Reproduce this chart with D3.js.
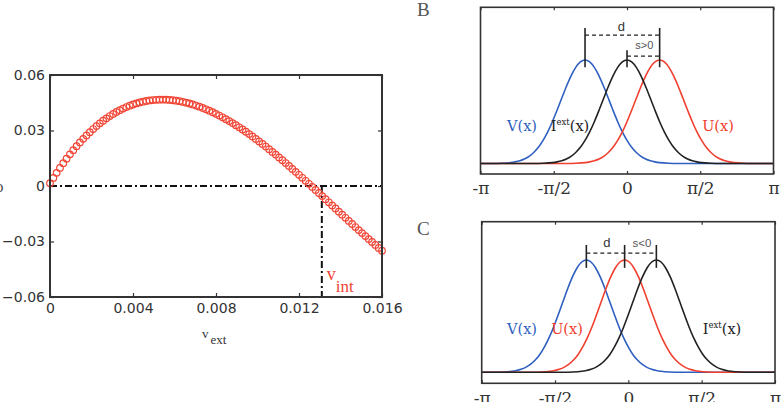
<!DOCTYPE html>
<html>
<head>
<meta charset="utf-8">
<script src="https://cdn.jsdelivr.net/npm/d3@7"></script>
<style>
  body { margin: 0; background: #fff; }
  svg { display: block; }
</style>
</head>
<body>
<svg id="fig" width="784" height="402"></svg>
<script>
// ---- panel A : red circles vs v_ext ----
var vExt = [0, 0.00016, 0.00032, 0.00048, 0.00064, 0.0008, 0.00096, 0.00112, 0.00128, 0.00144,
  0.0016, 0.00176, 0.00192, 0.00208, 0.00224, 0.0024, 0.00256, 0.00272, 0.00288, 0.00304,
  0.0032, 0.00336, 0.00352, 0.00368, 0.00384, 0.004, 0.00416, 0.00432, 0.00448, 0.00464,
  0.0048, 0.00496, 0.00512, 0.00528, 0.00544, 0.0056, 0.00576, 0.00592, 0.00608, 0.00624,
  0.0064, 0.00656, 0.00672, 0.00688, 0.00704, 0.0072, 0.00736, 0.00752, 0.00768, 0.00784,
  0.008, 0.00816, 0.00832, 0.00848, 0.00864, 0.0088, 0.00896, 0.00912, 0.00928, 0.00944,
  0.0096, 0.00976, 0.00992, 0.01008, 0.01024, 0.0104, 0.01056, 0.01072, 0.01088, 0.01104,
  0.0112, 0.01136, 0.01152, 0.01168, 0.01184, 0.012, 0.01216, 0.01232, 0.01248, 0.01264,
  0.0128, 0.01296, 0.01312, 0.01328, 0.01344, 0.0136, 0.01376, 0.01392, 0.01408, 0.01424,
  0.0144, 0.01456, 0.01472, 0.01488, 0.01504, 0.0152, 0.01536, 0.01552, 0.01568, 0.01584,
  0.016];
var rhoVals = [0.0015, 0.00437, 0.00712, 0.00978, 0.01232, 0.01477, 0.01712, 0.01936, 0.02151, 0.02355,
  0.0255, 0.02736, 0.02912, 0.03079, 0.03237, 0.03386, 0.03526, 0.03657, 0.0378, 0.03894,
  0.03999, 0.04097, 0.04186, 0.04267, 0.04341, 0.04406, 0.04464, 0.04515, 0.04558, 0.04594,
  0.04623, 0.04645, 0.0466, 0.04668, 0.04669, 0.04665, 0.04653, 0.04636, 0.04612, 0.04583,
  0.04547, 0.04506, 0.0446, 0.04408, 0.0435, 0.04288, 0.0422, 0.04147, 0.04069, 0.03987,
  0.039, 0.03808, 0.03713, 0.03613, 0.03509, 0.03401, 0.03289, 0.03173, 0.03055, 0.02932,
  0.02806, 0.02677, 0.02545, 0.0241, 0.02272, 0.02132, 0.01989, 0.01843, 0.01696, 0.01545,
  0.01393, 0.0124, 0.01083, 0.00925, 0.00766, 0.00606, 0.00444, 0.00281, 0.00118, -0.00048,
  -0.00214, -0.00379, -0.00546, -0.00714, -0.00882, -0.01049, -0.01217, -0.01386, -0.01552, -0.0172,
  -0.01887, -0.02052, -0.02218, -0.02383, -0.02545, -0.02708, -0.0287, -0.03028, -0.03187, -0.03345,
  -0.03501];
var vIntValue = 0.0131;
var aXTicks = [0, 0.004, 0.008, 0.012, 0.016];
var aXTickLabels = ["0", "0.004", "0.008", "0.012", "0.016"];
var aYTicks = [-0.06, -0.03, 0, 0.03, 0.06];
var aYTickLabels = ["\u22120.06", "\u22120.03", "0", "0.03", "0.06"];

// ---- panels B and C : bumps on the ring ----
var piTicks = [-Math.PI, -Math.PI / 2, 0, Math.PI / 2, Math.PI];
var piTickLabels = ["-\u03c0", "-\u03c0/2", "0", "\u03c0/2", "\u03c0"];
var bumpOffsets = [-4.2, -2.5, -2.0, -1.8, -1.6, -1.5, -1.4, -1.3, -1.2, -1.1, -1.0, -0.9, -0.8, -0.7, -0.6, -0.5, -0.4, -0.3, -0.2, -0.1,
  0, 0.1, 0.2, 0.3, 0.4, 0.5, 0.6, 0.7, 0.8, 0.9, 1.0, 1.1, 1.2, 1.3, 1.4, 1.5, 1.6, 1.8, 2.0, 2.5, 4.2];
var bumpProfile = [0, 0, 0.0006, 0.0025, 0.0088, 0.016, 0.027, 0.044, 0.070, 0.107, 0.157, 0.224, 0.306, 0.404, 0.514, 0.630, 0.744, 0.847, 0.929, 0.982,
  1, 0.982, 0.929, 0.847, 0.744, 0.630, 0.514, 0.404, 0.306, 0.224, 0.157, 0.107, 0.070, 0.044, 0.027, 0.016, 0.0088, 0.0025, 0.0006, 0, 0];
var bumpNames = ["V", "U", "I"];
var peaksB = [-0.9, 0.7, 0];
var peaksC = [-0.9, -0.08, 0.6];

var colV = "#2f5fbf", colU = "#f0402f", colI = "#222222", colMark = "#f04535";

var svg = d3.select("#fig");

// ================= panel A =================
var ax = d3.scaleLinear().domain([0, 0.016]).range([50, 382]);
var ay = d3.scaleLinear().domain([-0.06, 0.06]).range([297, 75]);
var gA = svg.append("g");

function styleAxis(sel, font, size) {
  sel.select(".domain").remove();
  sel.selectAll(".tick line").attr("stroke", "#333").attr("stroke-width", 1.2);
  sel.selectAll(".tick text").attr("fill", "#333").attr("font-family", font).attr("font-size", size);
}

gA.append("g").attr("transform", "translate(0," + ay.range()[0] + ")")
  .call(d3.axisBottom(ax).tickValues(aXTicks).tickSize(-4).tickPadding(6)
    .tickFormat(function (d, i) { return aXTickLabels[i]; }))
  .call(styleAxis, "DejaVu Sans", 14);
gA.append("g").attr("transform", "translate(0," + ay.range()[1] + ")")
  .call(d3.axisTop(ax).tickValues(aXTicks).tickSize(-4).tickFormat(""))
  .call(styleAxis, "DejaVu Sans", 14);
gA.append("g").attr("transform", "translate(" + ax.range()[0] + ",0)")
  .call(d3.axisLeft(ay).tickValues(aYTicks).tickSize(-4).tickPadding(5)
    .tickFormat(function (d, i) { return aYTickLabels[i]; }))
  .call(styleAxis, "DejaVu Sans", 14);
gA.append("g").attr("transform", "translate(" + ax.range()[1] + ",0)")
  .call(d3.axisRight(ay).tickValues(aYTicks).tickSize(-4).tickFormat(""))
  .call(styleAxis, "DejaVu Sans", 14);

// dash-dot guides
gA.append("line")
  .attr("x1", ax(0)).attr("x2", ax(0.016)).attr("y1", ay(0)).attr("y2", ay(0))
  .attr("stroke", "#111").attr("stroke-width", 2).attr("stroke-dasharray", "7,3,2,3");
gA.append("line")
  .attr("x1", ax(vIntValue)).attr("x2", ax(vIntValue)).attr("y1", ay(0)).attr("y2", ay(-0.06))
  .attr("stroke", "#111").attr("stroke-width", 2).attr("stroke-dasharray", "7,3,2,3");

gA.append("g").selectAll("circle")
  .data(vExt)
  .enter().append("circle")
  .attr("cx", function (d) { return ax(d); })
  .attr("cy", function (d, i) { return ay(rhoVals[i]); })
  .attr("r", 3.3)
  .attr("fill", "none")
  .attr("stroke", colMark)
  .attr("stroke-width", 1.2);

gA.append("rect")
  .attr("x", ax(0)).attr("y", ay(0.06))
  .attr("width", ax(0.016) - ax(0)).attr("height", ay(-0.06) - ay(0.06))
  .attr("fill", "none").attr("stroke", "#333").attr("stroke-width", 2);

// labels
var vint = gA.append("text").attr("font-family", "Liberation Serif").attr("fill", colMark)
  .attr("x", ax(vIntValue) + 5).attr("y", 280);
vint.append("tspan").attr("font-size", 18).text("v");
vint.append("tspan").attr("font-size", 17).attr("dy", 12).text("int");

var vext = gA.append("text").attr("font-family", "Liberation Serif").attr("fill", "#333")
  .attr("x", 202).attr("y", 337.5);
vext.append("tspan").attr("font-size", 13).text("v");
vext.append("tspan").attr("font-size", 13).attr("dy", 6.5).attr("dx", 2).text("ext");

gA.append("text").attr("x", 3.5).attr("y", 192).attr("text-anchor", "end")
  .attr("font-family", "Liberation Serif").attr("font-size", 16).attr("fill", "#444").text("\u03c1");

// ================= panels B / C =================
function ringPanel(opt) {
  var x = d3.scaleLinear().domain([-Math.PI, Math.PI]).range(opt.xr);
  var y = d3.scaleLinear().domain(opt.yd).range(opt.yr);
  var g = svg.append("g");
  var clipId = "clip" + opt.name;
  g.append("clipPath").attr("id", clipId).append("rect")
    .attr("x", opt.xr[0]).attr("y", opt.yr[1])
    .attr("width", opt.xr[1] - opt.xr[0]).attr("height", opt.yr[0] - opt.yr[1]);

  g.append("g").attr("transform", "translate(0," + opt.yr[0] + ")")
    .call(d3.axisBottom(x).tickValues(piTicks).tickSize(-3).tickPadding(7)
      .tickFormat(function (d, i) { return piTickLabels[i]; }))
    .call(styleAxis, "DejaVu Serif", 17);
  g.append("g").attr("transform", "translate(0," + opt.yr[1] + ")")
    .call(d3.axisTop(x).tickValues(piTicks).tickSize(-3).tickFormat(""))
    .call(styleAxis, "DejaVu Serif", 17);
  g.selectAll(".tick text").attr("dy", "0.78em");

  var line = d3.line()
    .x(function (d) { return x(d[0]); })
    .y(function (d) { return y(d[1]); })
    .curve(d3.curveMonotoneX);
  var cols = { V: colV, U: colU, I: colI };
  var curves = g.append("g").attr("clip-path", "url(#" + clipId + ")");
  bumpNames.forEach(function (nm, k) {
    var c = opt.peaks[k];
    var pts = bumpOffsets.map(function (o, j) { return [c + o, bumpProfile[j]]; });
    curves.append("path").datum(pts)
      .attr("d", line).attr("fill", "none")
      .attr("stroke", cols[nm]).attr("stroke-width", 1.6);
  });

  g.append("rect")
    .attr("x", opt.xr[0]).attr("y", opt.yr[1])
    .attr("width", opt.xr[1] - opt.xr[0]).attr("height", opt.yr[0] - opt.yr[1])
    .attr("fill", "none").attr("stroke", "#333").attr("stroke-width", 1.6);

  // panel letter
  g.append("text").attr("x", 417).attr("y", opt.letterY)
    .attr("font-family", "Liberation Serif").attr("font-size", 19).attr("fill", "#555")
    .text(opt.name);
  return { g: g, x: x, y: y };
}

function curveLabel(g, x, yb, txt, col, sup) {
  var t = g.append("text").attr("x", x).attr("y", yb).attr("text-anchor", "middle")
    .attr("font-family", "DejaVu Serif").attr("font-size", 14.5).attr("fill", col);
  if (sup) {
    t.append("tspan").text("I");
    t.append("tspan").attr("font-size", 8.5).attr("dy", -6).text("ext");
    t.append("tspan").attr("dy", 6).text("(x)");
  } else {
    t.text(txt);
  }
}

function vmark(p, xv, y0, y1) {
  p.g.append("line").attr("x1", p.x(xv)).attr("x2", p.x(xv))
    .attr("y1", p.y(y0)).attr("y2", p.y(y1))
    .attr("stroke", "#222").attr("stroke-width", 1.6);
}
function hdash(p, xa, xb, yv) {
  p.g.append("line").attr("x1", p.x(xa)).attr("x2", p.x(xb))
    .attr("y1", p.y(yv)).attr("y2", p.y(yv))
    .attr("stroke", "#222").attr("stroke-width", 1.3).attr("stroke-dasharray", "4,3");
}
function smallText(p, xv, yb, txt, size, col) {
  p.g.append("text").attr("x", p.x(xv)).attr("y", yb).attr("text-anchor", "middle")
    .attr("font-family", "Liberation Sans").attr("font-size", size).attr("fill", col).text(txt);
}

// panel B
var pB = ringPanel({ name: "B", xr: [480.5, 773.5], yr: [174, 7.3], yd: [-0.101, 1.509], peaks: peaksB, letterY: 16 });
vmark(pB, peaksB[0], 0.93, 1.31);
vmark(pB, peaksB[1], 0.93, 1.31);
vmark(pB, peaksB[2], 0.93, 1.095);
hdash(pB, peaksB[0], peaksB[1], 1.24);
hdash(pB, peaksB[2], peaksB[1], 1.037);
smallText(pB, (peaksB[0] + peaksB[1]) / 2 - 0.02, 31, "d", 13, "#333");
smallText(pB, (peaksB[2] + peaksB[1]) / 2 + 0.02, 49, "s>0", 11, "#555");
curveLabel(pB.g, 522, 131, "V(x)", colV, false);
curveLabel(pB.g, 570, 131, "", colI, true);
curveLabel(pB.g, 718, 131, "U(x)", colU, false);

// panel C
var pC = ringPanel({ name: "C", xr: [481.7, 775], yr: [383.3, 221.7], yd: [-0.098, 1.341], peaks: peaksC, letterY: 235 });
vmark(pC, peaksC[0], 0.93, 1.134);
vmark(pC, peaksC[1], 0.93, 1.134);
vmark(pC, peaksC[2], 0.93, 1.134);
hdash(pC, peaksC[0], peaksC[2], 1.062);
smallText(pC, (peaksC[0] + peaksC[1]) / 2 + 0.03, 247, "d", 13, "#333");
smallText(pC, (peaksC[1] + peaksC[2]) / 2 + 0.03, 247, "s<0", 11.5, "#555");
curveLabel(pC.g, 522, 334, "V(x)", colV, false);
curveLabel(pC.g, 567, 334, "U(x)", colU, false);
curveLabel(pC.g, 722, 334, "", colI, true);
</script>
</body>
</html>
